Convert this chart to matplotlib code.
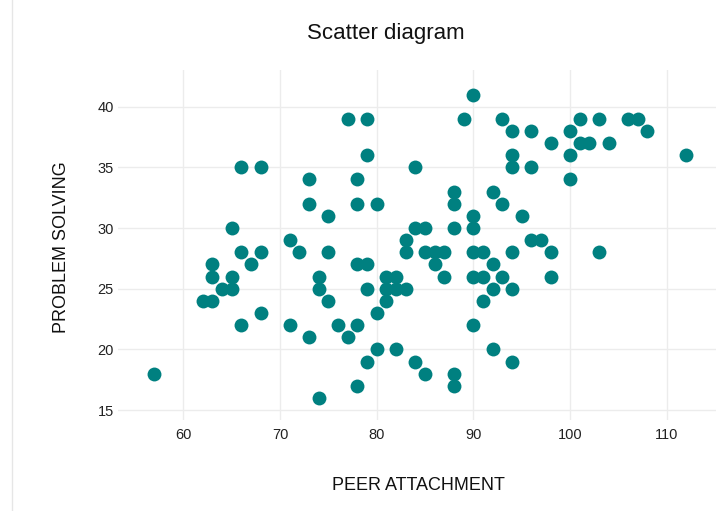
import matplotlib
matplotlib.use("Agg")
import matplotlib.pyplot as plt
from matplotlib.lines import Line2D

plt.rcParams['font.family'] = ['Liberation Sans', 'DejaVu Sans']

peer_attachment = [
    90,
    77, 79, 89, 93, 101, 103, 106, 107,
    94, 96, 100, 108,
    98, 101, 102, 104,
    79, 94, 100, 112,
    66, 68, 84, 94, 96,
    73, 78, 100,
    88, 92,
    73, 78, 80, 88, 93,
    75, 90, 95,
    65, 84, 85, 88, 90,
    71, 83, 96, 97,
    66, 68, 72, 75, 83, 85, 86, 87, 90, 91, 94, 98, 103,
    63, 67, 78, 79, 86, 92,
    63, 65, 74, 81, 82, 87, 90, 91, 93, 98,
    64, 65, 74, 79, 81, 82, 83, 92, 94,
    62, 63, 75, 81, 91,
    68, 80,
    66, 71, 76, 78, 90,
    73, 77,
    80, 82, 92,
    79, 84, 94,
    57, 85, 88,
    78, 88,
    74,
]
problem_solving = [
    41,
    39, 39, 39, 39, 39, 39, 39, 39,
    38, 38, 38, 38,
    37, 37, 37, 37,
    36, 36, 36, 36,
    35, 35, 35, 35, 35,
    34, 34, 34,
    33, 33,
    32, 32, 32, 32, 32,
    31, 31, 31,
    30, 30, 30, 30, 30,
    29, 29, 29, 29,
    28, 28, 28, 28, 28, 28, 28, 28, 28, 28, 28, 28, 28,
    27, 27, 27, 27, 27, 27,
    26, 26, 26, 26, 26, 26, 26, 26, 26, 26,
    25, 25, 25, 25, 25, 25, 25, 25, 25,
    24, 24, 24, 24, 24,
    23, 23,
    22, 22, 22, 22, 22,
    21, 21,
    20, 20, 20,
    19, 19, 19,
    18, 18, 18,
    17, 17,
    16,
]
x_ticks = [60, 70, 80, 90, 100, 110]
y_ticks = [15, 20, 25, 30, 35, 40]

W, H = 716, 511
fig = plt.figure(figsize=(W / 100, H / 100), dpi=100)
fig.patch.set_facecolor('white')

left, right, top, bottom = 118, 716, 70, 420
ax = fig.add_axes([left / W, 1 - bottom / H, (right - left) / W, (bottom - top) / H])
ax.set_facecolor('white')

ax.scatter(peer_attachment, problem_solving, s=100, color='#008080',
           linewidths=0, zorder=3)

ax.set_xlim(53.25, 115.1)
ax.set_ylim(14.18, 43.02)
ax.set_xticks(x_ticks)
ax.set_yticks(y_ticks)
ax.set_xticklabels([str(v) for v in x_ticks])
ax.set_yticklabels([str(v) for v in y_ticks])
ax.grid(True, color='#ececec', linewidth=1.0, zorder=0)
ax.set_axisbelow(True)
for sp in ax.spines.values():
    sp.set_visible(False)
ax.tick_params(axis='both', length=0, labelsize=10.5, colors='#222222')
ax.tick_params(axis='x', pad=6)
ax.tick_params(axis='y', pad=3)

fig.text(386 / W, 1 - 34 / H, 'Scatter diagram', ha='center', va='center',
         fontsize=16, color='#111111')
fig.text(418 / W, 1 - 486 / H, 'PEER ATTACHMENT', ha='center', va='center',
         fontsize=13, color='#111111')
fig.text(62 / W, 1 - 247 / H, 'PROBLEM SOLVING', ha='center', va='center',
         rotation=90, fontsize=13, color='#111111')

fig.add_artist(Line2D([12 / W, 12 / W], [0, 1], color='#e6e6e6', linewidth=1.0,
                      transform=fig.transFigure))

fig.savefig('out.png', dpi=100, facecolor='white')
